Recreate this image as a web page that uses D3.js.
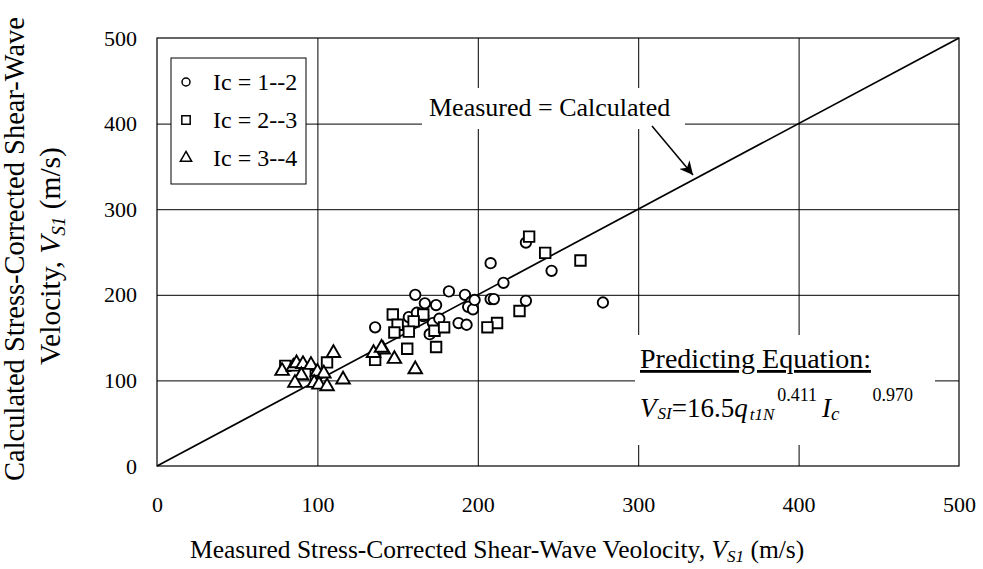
<!DOCTYPE html>
<html>
<head>
<meta charset="utf-8">
<script src="https://cdn.jsdelivr.net/npm/d3@7"></script>
<style>
  body { margin: 0; background: #fff; }
  svg { font-family: "Liberation Serif", "Times New Roman", serif; }
</style>
</head>
<body>
<div id="chart"></div>
<script>
// Ic = 1--2 (circles)
const ic12X = [136, 161, 182, 192, 167, 174, 196, 194, 197, 157, 162, 172, 170, 188, 193, 208, 230, 216, 246, 208, 210, 230, 278, 198, 166, 176];
const ic12Y = [162, 200, 204, 200, 190, 188, 192, 186, 183, 174, 179, 167, 154, 167, 165, 237, 261, 214, 228, 195, 195, 193, 191, 194, 175, 172];
// Ic = 2--3 (squares)
const ic23X = [232, 242, 264, 226, 212, 206, 147, 166, 150, 160, 148, 157, 173, 179, 156, 174, 136, 80, 106, 99];
const ic23Y = [268, 249, 240, 181, 167, 162, 177, 177, 165, 169, 156, 157, 158, 162, 137, 139, 124, 117, 121, 106];
// Ic = 3--4 (triangles)
const ic34X = [141, 148, 161, 78, 85, 87, 91, 96, 110, 90, 86, 100, 104, 98, 101, 106, 116, 135, 140];
const ic34Y = [136, 125, 113, 111, 116, 120, 119, 118, 132, 106, 97, 110, 108, 97, 95, 93, 101, 132, 138];

const ticks = [0, 100, 200, 300, 400, 500];
const legendLabels = ['Ic = 1--2', 'Ic = 2--3', 'Ic = 3--4'];

const width = 983, height = 569;
const margin = { left: 157, right: 24, top: 38, bottom: 103 };

const svg = d3.select('#chart').append('svg')
  .attr('width', width)
  .attr('height', height);

const x = d3.scaleLinear().domain([0, 500]).range([margin.left, width - margin.right]);
const y = d3.scaleLinear().domain([0, 500]).range([height - margin.bottom, margin.top]);

// grid lines
svg.append('g')
  .attr('transform', `translate(0,${y(0)})`)
  .call(d3.axisBottom(x).tickValues([100, 200, 300, 400]).tickSize(-(y(0) - y(500))).tickFormat(''))
  .call(g => g.select('.domain').remove())
  .call(g => g.selectAll('line').attr('stroke', '#000').attr('stroke-width', 1));
svg.append('g')
  .attr('transform', `translate(${x(0)},0)`)
  .call(d3.axisLeft(y).tickValues([100, 200, 300, 400]).tickSize(-(x(500) - x(0))).tickFormat(''))
  .call(g => g.select('.domain').remove())
  .call(g => g.selectAll('line').attr('stroke', '#000').attr('stroke-width', 1));

// white boxes behind annotations
svg.append('rect').attr('x', 422).attr('y', 88).attr('width', 263).attr('height', 41).attr('fill', '#fff');
svg.append('rect').attr('x', 635).attr('y', 335).attr('width', 300).attr('height', 110).attr('fill', '#fff');

// tick labels
svg.append('g')
  .attr('transform', `translate(${x(0)},0)`)
  .call(d3.axisLeft(y).tickValues(ticks).tickSize(0).tickPadding(20))
  .call(g => g.select('.domain').remove())
  .call(g => g.selectAll('text').attr('font-size', 22).attr('font-family', '"Liberation Serif", serif').attr('fill', '#000'));
svg.append('g')
  .attr('transform', `translate(0,${y(0)})`)
  .call(d3.axisBottom(x).tickValues(ticks).tickSize(0).tickPadding(30))
  .call(g => g.select('.domain').remove())
  .call(g => g.selectAll('text').attr('font-size', 22).attr('font-family', '"Liberation Serif", serif').attr('fill', '#000'));

// 1:1 line
svg.append('path')
  .datum([0, 500])
  .attr('d', d3.line().x(d => x(d)).y(d => y(d)))
  .attr('stroke', '#000').attr('stroke-width', 1.7).attr('fill', 'none');

// markers
const circ = d3.symbol().type(d3.symbolCircle).size(85);
const sq = d3.symbol().type(d3.symbolSquare).size(110);
const tri = d3.symbol().type(d3.symbolTriangle).size(80);
const series = [
  { xs: ic12X, ys: ic12Y, sym: circ },
  { xs: ic23X, ys: ic23Y, sym: sq },
  { xs: ic34X, ys: ic34Y, sym: tri }
];
series.forEach(s => {
  svg.append('g').selectAll('path')
    .data(s.xs.map((v, i) => [v, s.ys[i]]))
    .enter().append('path')
    .attr('d', s.sym)
    .attr('transform', d => `translate(${x(d[0])},${y(d[1])})`)
    .attr('fill', '#fff').attr('stroke', '#000').attr('stroke-width', 1.9);
});

// plot border
svg.append('rect')
  .attr('x', x(0)).attr('y', y(500))
  .attr('width', x(500) - x(0)).attr('height', y(0) - y(500))
  .attr('fill', 'none').attr('stroke', '#000').attr('stroke-width', 1.2);

// legend
const leg = svg.append('g');
leg.append('rect').attr('x', 171).attr('y', 58).attr('width', 135).attr('height', 126)
  .attr('fill', '#fff').attr('stroke', '#000').attr('stroke-width', 1);
const legSyms = [
  d3.symbol().type(d3.symbolCircle).size(50),
  d3.symbol().type(d3.symbolSquare).size(70),
  d3.symbol().type(d3.symbolTriangle).size(55)
];
legendLabels.forEach((t, i) => {
  const cy = 82 + i * 38;
  leg.append('path').attr('d', legSyms[i]).attr('transform', `translate(186,${cy})`)
    .attr('fill', '#fff').attr('stroke', '#000').attr('stroke-width', 1.5);
  leg.append('text').attr('x', 213).attr('y', cy + 8).attr('font-size', 24).text(t);
});

// measured = calculated label + arrow
svg.append('text').attr('x', 429).attr('y', 116).attr('font-size', 26).text('Measured = Calculated');
svg.append('defs').append('marker')
  .attr('id', 'arr').attr('viewBox', '0 0 10 10').attr('refX', 10).attr('refY', 5)
  .attr('markerWidth', 9).attr('markerHeight', 9).attr('orient', 'auto')
  .append('path').attr('d', 'M0,0 L10,5 L0,10 L3,5 Z').attr('fill', '#000');
svg.append('line').attr('x1', 652).attr('y1', 126).attr('x2', 693).attr('y2', 175)
  .attr('stroke', '#000').attr('stroke-width', 1.5).attr('marker-end', 'url(#arr)');

// predicting equation
svg.append('text').attr('x', 640).attr('y', 368).attr('font-size', 28)
  .attr('text-decoration', 'underline').text('Predicting Equation:');
const eq = svg.append('text').attr('x', 640).attr('y', 417).attr('font-size', 27);
eq.append('tspan').attr('font-style', 'italic').text('V');
eq.append('tspan').attr('font-style', 'italic').attr('font-size', 17).attr('dx', 1).attr('dy', 2).text('SI');
eq.append('tspan').attr('dy', -2).text('=16.5');
eq.append('tspan').attr('font-style', 'italic').text('q');
eq.append('tspan').attr('font-style', 'italic').attr('font-size', 17).attr('dx', 2).attr('dy', 3).text('t1N');
eq.append('tspan').attr('font-size', 18).attr('dx', 3).attr('dy', -19).text('0.411');
eq.append('tspan').attr('font-style', 'italic').attr('dx', 5).attr('dy', 16).text('I');
eq.append('tspan').attr('font-style', 'italic').attr('font-size', 19).attr('dy', 3).text('c');
eq.append('tspan').attr('font-size', 18).attr('dx', 33).attr('dy', -19).text('0.970');

// x axis title
const xt = svg.append('text').attr('x', 190).attr('y', 558).attr('font-size', 25.5);
xt.append('tspan').text('Measured Stress-Corrected Shear-Wave Veolocity, ');
xt.append('tspan').attr('font-style', 'italic').text('V');
xt.append('tspan').attr('font-style', 'italic').attr('font-size', 17).attr('dy', 4).text('S1');
xt.append('tspan').attr('dy', -4).text('  (m/s)');

// y axis title
svg.append('text')
  .attr('transform', 'translate(24,249) rotate(-90)')
  .attr('text-anchor', 'middle').attr('font-size', 28.5)
  .text('Calculated Stress-Corrected Shear-Wave');
const yt2 = svg.append('text')
  .attr('transform', 'translate(60,256) rotate(-90)')
  .attr('text-anchor', 'middle').attr('font-size', 29.5);
yt2.append('tspan').text('Velocity, ');
yt2.append('tspan').attr('font-style', 'italic').text('V');
yt2.append('tspan').attr('font-style', 'italic').attr('font-size', 19).attr('dy', 5).text('S1');
yt2.append('tspan').attr('dy', -5).text('  (m/s)');
</script>
</body>
</html>
